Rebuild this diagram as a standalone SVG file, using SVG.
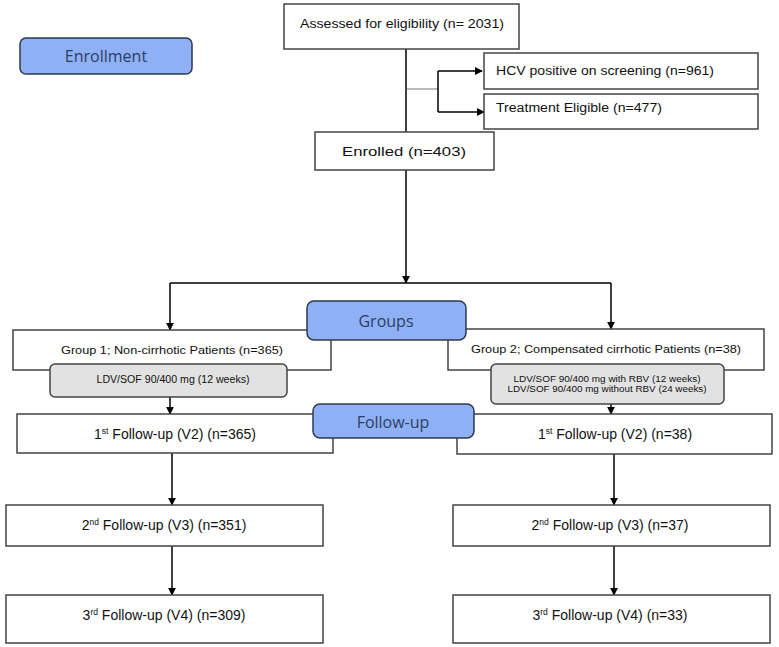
<svg xmlns="http://www.w3.org/2000/svg" width="779" height="647" viewBox="0 0 779 647">
<defs>
<marker id="ah" viewBox="0 0 10 10" refX="9" refY="5" markerWidth="8" markerHeight="8" markerUnits="userSpaceOnUse" orient="auto">
<path d="M0,0 L10,5 L0,10 Z" fill="#000"/>
</marker>
</defs>
<style>
.box{fill:#fff;stroke:#444;stroke-width:1.5}
.drug{fill:#e2e2e2;stroke:#444;stroke-width:1.5}
.pill{fill:#8fb0f5;stroke:#2e3a4d;stroke-width:1.5}
.t{font-family:"Liberation Sans",Arial,sans-serif;font-size:12.5px;fill:#111;text-anchor:middle}
.tf{font-family:"Liberation Sans",Arial,sans-serif;font-size:14px;fill:#111;text-anchor:middle}
.tl{font-family:"Liberation Sans",Arial,sans-serif;font-size:12.5px;fill:#111}
.ts{font-family:"Liberation Sans",Arial,sans-serif;font-size:11.5px;fill:#111;text-anchor:middle}
.td{font-family:"Liberation Sans",Arial,sans-serif;font-size:10px;fill:#111;text-anchor:middle}
.tdd{font-family:"Liberation Sans",Arial,sans-serif;font-size:8.5px;fill:#111;text-anchor:middle}
.tp{font-family:"Open Sans","Noto Sans",sans-serif;font-size:16px;fill:#2b3f66;text-anchor:middle}
.c{fill:none;stroke:#000;stroke-width:1.5}
.cg{fill:none;stroke:#777;stroke-width:1}
.sup{font-size:8.5px}
</style>

<g id="connectors">
<path class="c" d="M406,49 V132"/>
<path class="cg" d="M407,89 H438"/>
<path class="c" d="M438,71 V112"/>
<path class="c" d="M438,71 H482" marker-end="url(#ah)"/>
<path class="c" d="M438,112 H484" marker-end="url(#ah)"/>
<path class="c" d="M406,170 V283" marker-end="url(#ah)"/>
<path class="c" d="M170,283 H611"/>
<path class="c" d="M170,283 V330" marker-end="url(#ah)"/>
<path class="c" d="M611,283 V329" marker-end="url(#ah)"/>
<path class="c" d="M170,397 V414" marker-end="url(#ah)"/>
<path class="c" d="M611,404 V414" marker-end="url(#ah)"/>
<path class="c" d="M172,453 V505" marker-end="url(#ah)"/>
<path class="c" d="M614,454 V505" marker-end="url(#ah)"/>
<path class="c" d="M172,546 V595" marker-end="url(#ah)"/>
<path class="c" d="M614,546 V595" marker-end="url(#ah)"/>
</g>

<g id="assessed">
<rect class="box" x="284" y="4" width="235" height="45"/>
<text class="t" x="402" y="28" textLength="204" lengthAdjust="spacingAndGlyphs">Assessed for eligibility (n= 2031)</text>
</g>
<g id="hcv">
<rect class="box" x="484" y="53" width="274" height="36"/>
<text class="tl" x="496" y="75" textLength="218" lengthAdjust="spacingAndGlyphs">HCV positive on screening (n=961)</text>
</g>
<g id="eligible">
<rect class="box" x="484" y="94" width="274" height="35"/>
<text class="tl" x="496" y="112" textLength="166" lengthAdjust="spacingAndGlyphs">Treatment Eligible (n=477)</text>
</g>
<g id="enrolled">
<rect class="box" x="315" y="132" width="179" height="38"/>
<text class="t" x="404" y="156" textLength="124" lengthAdjust="spacingAndGlyphs">Enrolled (n=403)</text>
</g>

<g id="group1">
<rect class="box" x="13" y="330" width="318" height="40"/>
<text class="ts" x="172" y="354" textLength="222" lengthAdjust="spacingAndGlyphs">Group 1; Non-cirrhotic Patients (n=365)</text>
</g>
<g id="group2">
<rect class="box" x="448" y="329" width="316" height="41"/>
<text class="ts" x="606" y="353" textLength="270" lengthAdjust="spacingAndGlyphs">Group 2; Compensated cirrhotic Patients (n=38)</text>
</g>
<g id="drug1">
<rect class="drug" x="50" y="364" width="237" height="33" rx="5"/>
<text class="td" x="173" y="383" textLength="153" lengthAdjust="spacingAndGlyphs">LDV/SOF 90/400 mg (12 weeks)</text>
</g>
<g id="drug2">
<rect class="drug" x="491" y="364" width="233" height="40" rx="5"/>
<text class="tdd" x="607" y="382" textLength="187" lengthAdjust="spacingAndGlyphs">LDV/SOF 90/400 mg with RBV (12 weeks)</text>
<text class="tdd" x="607" y="392" textLength="199" lengthAdjust="spacingAndGlyphs">LDV/SOF 90/400 mg without RBV (24 weeks)</text>
</g>

<g id="fu1-left">
<rect class="box" x="17" y="414" width="316" height="39"/>
<text class="tf" x="175" y="439">1<tspan class="sup" dy="-5">st</tspan><tspan dy="5"> Follow-up (V2) (n=365)</tspan></text>
</g>
<g id="fu1-right">
<rect class="box" x="457" y="414" width="315" height="40"/>
<text class="tf" x="615" y="439">1<tspan class="sup" dy="-5">st</tspan><tspan dy="5"> Follow-up (V2) (n=38)</tspan></text>
</g>
<g id="fu2-left">
<rect class="box" x="6" y="505" width="317" height="41"/>
<text class="tf" x="164" y="530">2<tspan class="sup" dy="-5">nd</tspan><tspan dy="5"> Follow-up (V3) (n=351)</tspan></text>
</g>
<g id="fu2-right">
<rect class="box" x="453" y="505" width="317" height="41"/>
<text class="tf" x="610" y="530">2<tspan class="sup" dy="-5">nd</tspan><tspan dy="5"> Follow-up (V3) (n=37)</tspan></text>
</g>
<g id="fu3-left">
<rect class="box" x="6" y="595" width="317" height="48"/>
<text class="tf" x="164" y="620">3<tspan class="sup" dy="-5">rd</tspan><tspan dy="5"> Follow-up (V4) (n=309)</tspan></text>
</g>
<g id="fu3-right">
<rect class="box" x="453" y="595" width="317" height="48"/>
<text class="tf" x="610" y="620">3<tspan class="sup" dy="-5">rd</tspan><tspan dy="5"> Follow-up (V4) (n=33)</tspan></text>
</g>

<g id="enrollment-label">
<rect class="pill" x="20" y="38" width="172" height="36" rx="6"/>
<text class="tp" x="106" y="62">Enrollment</text>
</g>
<g id="groups-label">
<rect class="pill" x="307" y="301" width="159" height="39" rx="7"/>
<text class="tp" x="386" y="327">Groups</text>
</g>
<g id="followup-label">
<rect class="pill" x="313" y="404" width="161" height="34" rx="7"/>
<text class="tp" x="393" y="428">Follow-up</text>
</g>
</svg>
